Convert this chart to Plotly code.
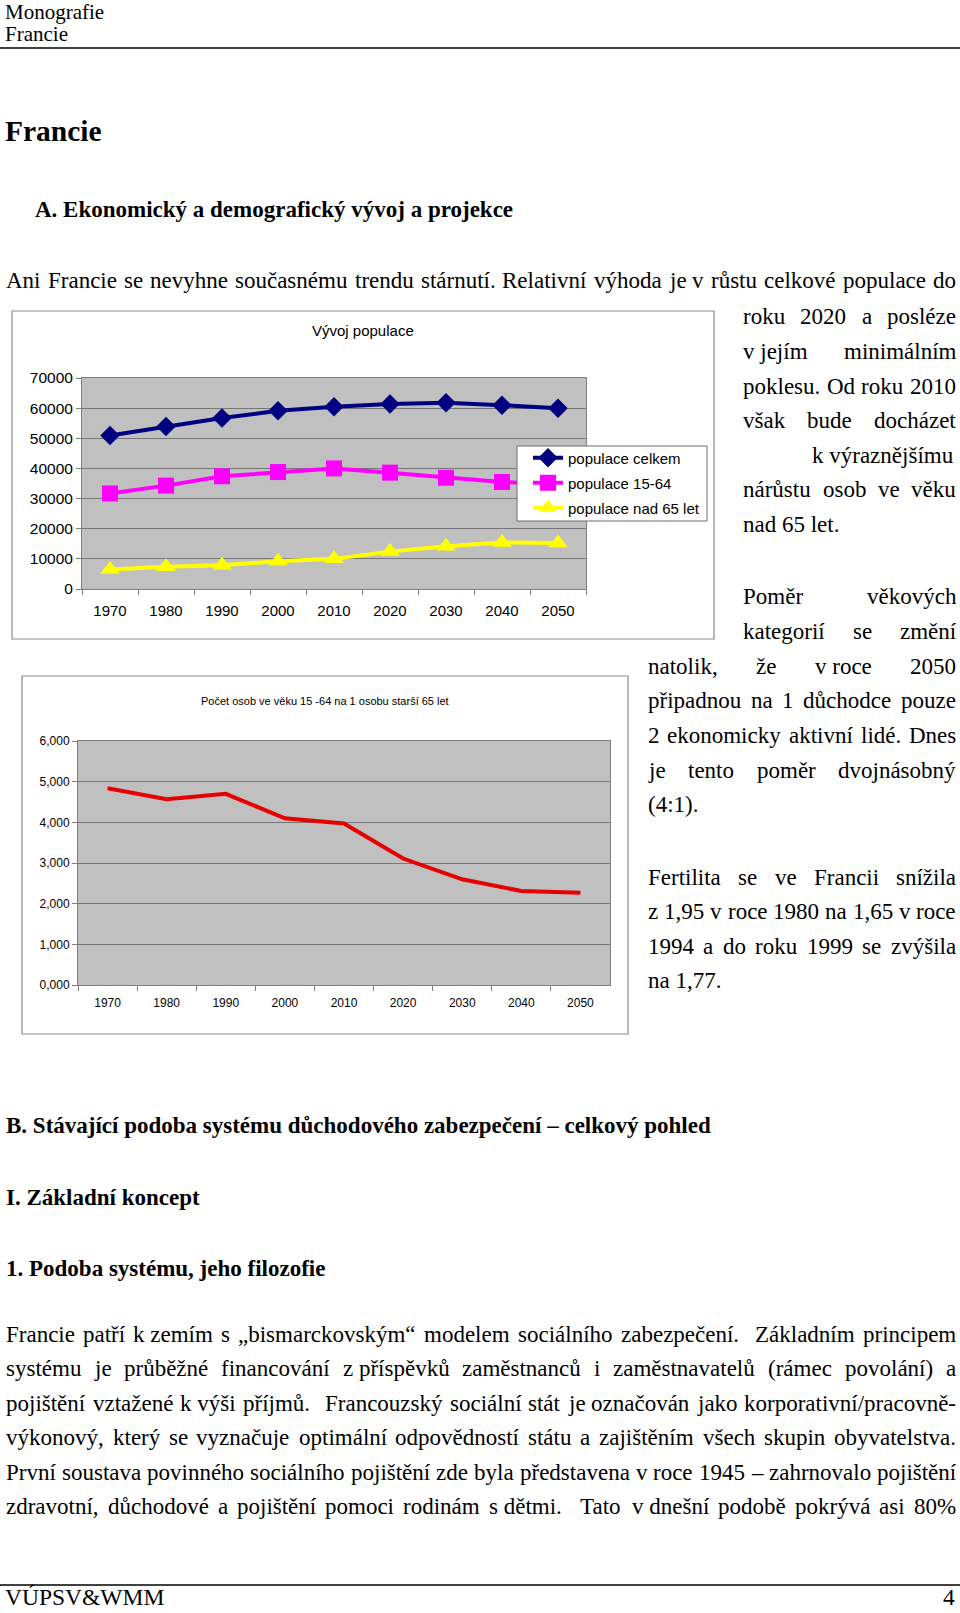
import re
import unicodedata
import plotly.graph_objects as go

# ---------------- data ----------------
YEARS = ["1970", "1980", "1990", "2000", "2010", "2020", "2030", "2040", "2050"]
POP_TOTAL = [50900, 53900, 56700, 59100, 60500, 61400, 61800, 61000, 60000]
POP_15_64 = [31700, 34300, 37400, 38800, 40000, 38600, 36900, 35500, 34700]
POP_65 = [6500, 7400, 7900, 9200, 10000, 12400, 14200, 15400, 15300]
RATIO = [4.84, 4.57, 4.70, 4.10, 3.97, 3.11, 2.60, 2.31, 2.27]

SERIES_NAMES = ["populace celkem", "populace 15-64", "populace nad 65 let"]
Y1_TICKVALS = [0, 10000, 20000, 30000, 40000, 50000, 60000, 70000]
Y1_TICKTEXT = ["0", "10000", "20000", "30000", "40000", "50000", "60000", "70000"]
Y2_TICKVALS = [0, 1, 2, 3, 4, 5, 6]
Y2_TICKTEXT = ["0,000", "1,000", "2,000", "3,000", "4,000", "5,000", "6,000"]

TITLE1 = "Vývoj populace"
TITLE2 = "Počet osob ve věku 15 -64 na 1 osobu starší 65 let"

NB = "\u00a0"
INTRO_LINE = "Ani Francie se nevyhne současnému trendu stárnutí. Relativní výhoda je v růstu celkové populace do"
COL_BLOCK1 = ["roku 2020 a posléze", "v" + NB + "jejím minimálním", "poklesu. Od roku 2010",
              "však bude docházet", "k" + NB + "výraznějšímu", "nárůstu osob ve věku", "nad 65 let."]
COL_BLOCK2 = ["Poměr věkových", "kategorií se změní", "natolik, že v" + NB + "roce 2050",
              "připadnou na 1 důchodce pouze", "2 ekonomicky aktivní lidé. Dnes",
              "je tento poměr dvojnásobný", "(4:1)."]
COL_BLOCK3 = ["Fertilita se ve Francii snížila", "z 1,95 v roce 1980 na 1,65 v roce",
              "1994 a do roku 1999 se zvýšila", "na 1,77."]
PARAGRAPH = [
    "Francie patří k" + NB + "zemím s „bismarckovským“ modelem sociálního zabezpečení.  Základním principem",
    "systému je průběžné financování z" + NB + "příspěvků zaměstnanců i zaměstnavatelů (rámec povolání) a",
    "pojištění vztažené k" + NB + "výši příjmů.  Francouzský sociální stát je označován jako korporativní/pracovně-",
    "výkonový, který se vyznačuje optimální odpovědností státu a zajištěním všech skupin obyvatelstva.",
    "První soustava povinného sociálního pojištění zde byla představena v roce 1945 – zahrnovalo pojištění",
    "zdravotní, důchodové a pojištění pomoci rodinám s" + NB + "dětmi.  Tato v" + NB + "dnešní podobě pokrývá asi 80%",
]

W, H = 960, 1613


def px(x):
    return x / W


def py(y):
    return 1 - y / H


# Times (Liberation Serif) advance widths, 1/1000 em
TIMES = {' ': 250, NB: 250, '!': 333, '%': 833, '&': 778, '(': 333, ')': 333, ',': 250, '-': 333,
         '.': 250, '/': 278, ':': 278, ';': 278, '?': 444, '–': 500, '„': 444, '“': 444}
for d in "0123456789":
    TIMES[d] = 500
for ch, w in zip("ABCDEFGHIJKLMNOPQRSTUVWXYZ",
                 [722, 667, 667, 722, 611, 556, 722, 722, 333, 389, 722, 611, 889, 722, 722, 556,
                  722, 667, 556, 611, 722, 722, 944, 722, 722, 611]):
    TIMES[ch] = w
for ch, w in zip("abcdefghijklmnopqrstuvwxyz",
                 [444, 500, 444, 500, 444, 333, 500, 500, 278, 278, 500, 278, 778, 500, 500, 500,
                  500, 333, 389, 278, 500, 500, 722, 500, 500, 444]):
    TIMES[ch] = w


def cw(ch):
    if ch in TIMES:
        return TIMES[ch]
    b = unicodedata.normalize("NFD", ch)[0]
    return TIMES.get(b, 500)


def tw(s, fs):
    return sum(cw(c) for c in s) * fs / 1000.0


annotations = []
SERIF = "Liberation Serif"
SANS = "Liberation Sans"


def text(s, x, y, fs, family=SERIF, anchor="left", bold=False, color="black"):
    if bold:
        s = "<b>" + s + "</b>"
    annotations.append(dict(text=s, x=px(x), y=py(y), xref="paper", yref="paper",
                            xanchor=anchor, yanchor="middle", showarrow=False, borderpad=0,
                            font=dict(family=family, size=fs, color=color)))


def justify(line, x0, x1, y, fs):
    parts = re.findall(r"( +)|([^ ]+)", line)
    items = []
    pending = 0
    for sp, word in parts:
        if sp:
            pending += len(sp)
        else:
            items.append((pending if items else 0, word))
            pending = 0
    nsp = sum(k for k, _ in items)
    nat = sum(tw(wd, fs) for _, wd in items) + nsp * 0.25 * fs
    extra = (x1 - x0 - nat) / nsp if nsp else 0
    x = x0
    for k, wd in items:
        x += k * (0.25 * fs + extra)
        text(wd, x, y, fs)
        x += tw(wd, fs)


BODY = 23
LH = 34.6

# header
text("Monografie", 4, 12.5, 21)
text("Francie", 4, 34, 21)
text("Francie", 4, 131, 29.5, bold=True)
text("A. Ekonomický a demografický vývoj a projekce", 34, 210, BODY, bold=True)
justify(INTRO_LINE, 5, 955, 281, BODY)

# right column
for i, ln in enumerate(COL_BLOCK1):
    yy = 317 + i * LH
    if i == len(COL_BLOCK1) - 1:
        text(ln, 742, yy, BODY)
    elif " " not in ln:
        text(ln, 955, yy, BODY, anchor="right")
    else:
        justify(ln, 742, 955, yy, BODY)
for i, ln in enumerate(COL_BLOCK2):
    yy = 597 + i * LH
    x0 = 742 if i < 2 else 647
    if i == len(COL_BLOCK2) - 1:
        text(ln, x0, yy, BODY)
    else:
        justify(ln, x0, 955, yy, BODY)
for i, ln in enumerate(COL_BLOCK3):
    yy = 877 + i * LH
    if i == len(COL_BLOCK3) - 1:
        text(ln, 647, yy, BODY)
    else:
        justify(ln, 647, 955, yy, BODY)

text("B. Stávající podoba systému důchodového zabezpečení – celkový pohled", 5, 1125, BODY, bold=True)
text("I. Základní koncept", 5, 1197, BODY, bold=True)
text("1. Podoba systému, jeho filozofie", 5, 1268, BODY, bold=True)
for i, ln in enumerate(PARAGRAPH):
    justify(ln, 5, 955, 1334 + i * 34.5, BODY)

text("VÚPSV&amp;WMM", 4, 1597, 23.5)
text("4", 956, 1597, 23.5, anchor="right")

# chart titles
text(TITLE1, 363, 331, 15, family=SANS, anchor="center")
text(TITLE2, 325, 701, 11, family=SANS, anchor="center")

shapes = [
    dict(type="line", xref="paper", yref="paper", x0=px(0), x1=px(960), y0=py(48), y1=py(48),
         line=dict(color="black", width=1.5)),
    dict(type="line", xref="paper", yref="paper", x0=px(0), x1=px(960), y0=py(1585), y1=py(1585),
         line=dict(color="black", width=1.5)),
    dict(type="rect", xref="paper", yref="paper", x0=px(12), x1=px(714), y0=py(311), y1=py(639),
         line=dict(color="#8a8a8a", width=1.2), fillcolor="rgba(0,0,0,0)", layer="below"),
    dict(type="rect", xref="paper", yref="paper", x0=px(22), x1=px(628), y0=py(676), y1=py(1034),
         line=dict(color="#8a8a8a", width=1.2), fillcolor="rgba(0,0,0,0)", layer="below"),
    dict(type="rect", xref="paper", yref="paper", x0=px(517), x1=px(707), y0=py(446), y1=py(521),
         line=dict(color="#6f6f6f", width=1), fillcolor="white", layer="above"),
]

fig = go.Figure()
fig.add_trace(go.Scatter(x=YEARS, y=POP_TOTAL, name=SERIES_NAMES[0], mode="lines+markers",
                         line=dict(color="#000080", width=4),
                         marker=dict(symbol="diamond", size=15, color="#000080"),
                         xaxis="x", yaxis="y", legend="legend"))
fig.add_trace(go.Scatter(x=YEARS, y=POP_15_64, name=SERIES_NAMES[1], mode="lines+markers",
                         line=dict(color="#ff00ff", width=4),
                         marker=dict(symbol="square", size=16, color="#ff00ff"),
                         xaxis="x", yaxis="y", legend="legend2"))
fig.add_trace(go.Scatter(x=YEARS, y=POP_65, name=SERIES_NAMES[2], mode="lines+markers",
                         line=dict(color="#ffff00", width=4),
                         marker=dict(symbol="triangle-up", size=17, color="#ffff00"),
                         xaxis="x", yaxis="y", legend="legend3"))
fig.add_trace(go.Scatter(x=YEARS, y=RATIO, mode="lines", showlegend=False,
                         line=dict(color="#e60000", width=4),
                         xaxis="x2", yaxis="y2"))

GRID = "#767676"
AX = "#808080"
common_x = dict(type="category", showgrid=False, showline=True, linecolor=AX, linewidth=1,
                mirror=True, ticks="outside", tickson="boundaries", ticklen=5, tickcolor=AX,
                zeroline=False, fixedrange=True, automargin=False)
common_y = dict(showgrid=True, gridcolor=GRID, gridwidth=1, showline=True, linecolor=AX,
                linewidth=1, mirror=True, ticks="outside", ticklen=5, tickcolor=AX,
                zeroline=False, fixedrange=True, automargin=False)

leg_common = dict(xanchor="left", yanchor="middle", bgcolor="rgba(0,0,0,0)", borderwidth=0,
                  font=dict(family=SANS, size=15, color="black"), itemclick=False,
                  itemdoubleclick=False)

fig.update_layout(
    template="none",
    width=W, height=H, autosize=False,
    margin=dict(l=0, r=0, t=0, b=0, pad=0, autoexpand=False),
    paper_bgcolor="white", plot_bgcolor="#c0c0c0",
    hovermode=False,
    xaxis=dict(domain=[px(82), px(586)], anchor="y", range=[-0.5, 8.5], ticklabelstandoff=8,
               tickfont=dict(family=SANS, size=15, color="black"), **common_x),
    yaxis=dict(domain=[py(589), py(378)], anchor="x", range=[0, 70000],
               tickvals=Y1_TICKVALS, ticktext=Y1_TICKTEXT,
               tickfont=dict(family=SANS, size=15.5, color="black"), **common_y),
    xaxis2=dict(domain=[px(78), px(610)], anchor="y2", range=[-0.5, 8.5], ticklabelstandoff=7,
                tickfont=dict(family=SANS, size=12, color="black"), **common_x),
    yaxis2=dict(domain=[py(985), py(741)], anchor="x2", range=[0, 6],
                tickvals=Y2_TICKVALS, ticktext=Y2_TICKTEXT,
                tickfont=dict(family=SANS, size=12, color="black"), **common_y),
    legend=dict(x=px(528), y=py(458), **leg_common),
    legend2=dict(x=px(528), y=py(483), **leg_common),
    legend3=dict(x=px(528), y=py(508), **leg_common),
    shapes=shapes,
    annotations=annotations,
)

POST = ("document.body.style.margin='0';document.body.style.padding='0';"
        "var d=document.getElementById('{plot_id}');d.style.position='absolute';"
        "d.style.left='0px';d.style.top='0px';")

fig.write_html("out.html", post_script=POST, config={"displayModeBar": False})
